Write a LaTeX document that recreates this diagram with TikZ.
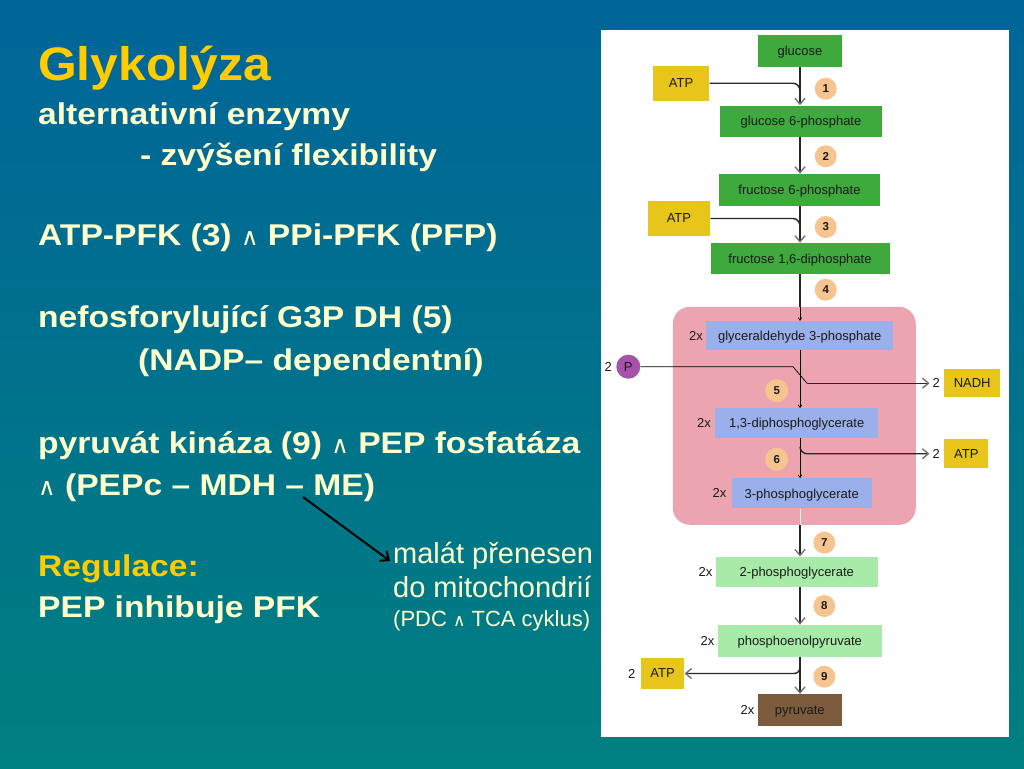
\documentclass[tikz,border=0pt]{standalone}
\usepackage{fontspec}
\setmainfont{Liberation Sans}
\newfontfamily\titlefont[FakeStretch=1.06]{Liberation Sans}
\newfontfamily\bodyfont[FakeStretch=1.12]{Liberation Sans}
\newfontfamily\panelfont{Liberation Sans}
\newfontfamily\wedgefont{DejaVu Sans}
\usetikzlibrary{arrows.meta}
\newcommand{\andsym}{{\wedgefont\mdseries\fontsize{24pt}{24pt}\selectfont ∧}}
\newcommand{\andsmall}{{\wedgefont\fontsize{17pt}{17pt}\selectfont ∧}}
\definecolor{bgtop}{RGB}{0,101,153}
\definecolor{bgbot}{RGB}{0,127,128}
\definecolor{yel}{RGB}{255,204,0}
\definecolor{cream}{RGB}{255,255,204}
\definecolor{gboxc}{RGB}{62,170,62}
\definecolor{atpc}{RGB}{232,197,26}
\definecolor{peach}{RGB}{246,196,142}
\definecolor{pinkc}{RGB}{236,165,176}
\definecolor{bluec}{RGB}{155,176,235}
\definecolor{purc}{RGB}{165,82,170}
\definecolor{lgreen}{RGB}{168,234,168}
\definecolor{brownc}{RGB}{125,92,61}
\definecolor{txtdark}{RGB}{26,26,26}
\definecolor{linec}{RGB}{40,40,40}
\begin{document}
\begin{tikzpicture}[x=1pt,y=-1pt,
  ttl/.style={inner sep=0pt, anchor=base west, text=yel, font=\titlefont\bfseries\fontsize{47pt}{47pt}\selectfont},
  body/.style={inner sep=0pt, anchor=base west, text=cream, font=\bodyfont\bfseries\fontsize{30pt}{30pt}\selectfont},
  smalltxt/.style={inner sep=0pt, anchor=base west, text=cream, font=\panelfont\fontsize{29pt}{29pt}\selectfont},
  smallertxt/.style={inner sep=0pt, anchor=base west, text=cream, font=\panelfont\fontsize{22pt}{22pt}\selectfont},
  mbox/.style={inner sep=0pt, text depth=0pt, text=txtdark, font=\panelfont\fontsize{13pt}{13pt}\selectfont},
  gbox/.style={mbox, fill=gboxc},
  abox/.style={mbox, fill=atpc},
  bbox/.style={mbox, fill=bluec},
  lbox/.style={mbox, fill=lgreen},
  lab/.style={inner sep=0pt, text=txtdark, font=\panelfont\fontsize{13pt}{13pt}\selectfont},
  num/.style={circle, fill=peach, minimum size=22pt, inner sep=0pt, text=txtdark, font=\panelfont\bfseries\fontsize{11.5pt}{11.5pt}\selectfont},
  arr/.style={draw=linec, line width=1.4pt, -{Straight Barb[length=6pt,width=10pt,color=black!55]}},
  feed/.style={draw=linec, line width=1.4pt},
  thinarr/.style={draw=black, line width=0.7pt, -{Straight Barb[length=2.5pt,width=3.5pt]}},
  thinline/.style={draw=black, line width=0.7pt},
  bigarr/.style={draw=black, line width=2pt, -{Straight Barb[length=7pt,width=12pt]}}
]
\useasboundingbox (0,0) rectangle (1024,768);
\shade[top color=bgtop, bottom color=bgbot] (0,0) rectangle (1024,768);
\fill[white] (601,30) rectangle (1009,737);

% left text
\node[ttl] (t1) at (38,80) {Glykolýza};
\node[body] (t2) at (38,124) {alternativní enzymy};
\node[body] (t3) at (140,165) {- zvýšení flexibility};
\node[body] (t4) at (38,245) {ATP-PFK (3) \andsym{} PPi-PFK (PFP)};
\node[body] (t5) at (38,327) {nefosforylující G3P DH (5)};
\node[body] (t6) at (138,370) {(NADP– dependentní)};
\node[body] (t7) at (38,453) {pyruvát kináza (9) \andsym{} PEP fosfatáza};
\node[body] (t8) at (38,495) {\andsym{} (PEPc – MDH – ME)};
\node[body, text=yel] (t9) at (38,576) {Regulace:};
\node[body] (t10) at (38,617) {PEP inhibuje PFK};
\node[smalltxt] (s1) at (393,563) {malát přenesen};
\node[smalltxt] (s2) at (393,597) {do mitochondrií};
\node[smallertxt] (s3) at (393,626) {(PDC \andsmall{} TCA cyklus)};
\coordinate (mfrom) at (303,497);
\coordinate (mto) at (390,561);
\draw[bigarr] (mfrom) -- (mto);

% panel
\coordinate (spine) at (800,0);
\node[fill=pinkc, rounded corners=17pt, minimum width=243pt, minimum height=218pt, inner sep=0pt] (cyto) at (794.3,415.8) {};

\node[gbox, minimum width=84pt, minimum height=32pt] (glc) at (800,51) {glucose};
\node[gbox, minimum width=162pt, minimum height=31pt] (g6p) at (801,121) {glucose 6-phosphate};
\node[gbox, minimum width=161pt, minimum height=32pt] (f6p) at (799.5,190) {fructose 6-phosphate};
\node[gbox, minimum width=179pt, minimum height=31pt] (f16) at (800,258.5) {fructose 1,6-diphosphate};
\node[bbox, minimum width=187pt, minimum height=29pt] (g3p) at (799.7,335.5) {glyceraldehyde 3-phosphate};
\node[bbox, minimum width=163pt, minimum height=29.5pt] (dpg) at (796.7,423) {1,3-diphosphoglycerate};
\node[bbox, minimum width=140pt, minimum height=30pt] (pg3) at (801.7,493.3) {3-phosphoglycerate};
\node[lbox, minimum width=162pt, minimum height=30pt] (pg2) at (796.8,571.7) {2-phosphoglycerate};
\node[lbox, minimum width=164pt, minimum height=31.7pt] (pep) at (799.7,640.8) {phosphoenolpyruvate};
\node[mbox, fill=brownc, minimum width=84pt, minimum height=31.7pt] (pyr) at (799.7,710) {pyruvate};

\node[abox, minimum width=56.6pt, minimum height=35pt] (atp1) at (681,83.2) {ATP};
\node[abox, minimum width=62.3pt, minimum height=35.6pt] (atp2) at (678.9,218.5) {ATP};
\node[abox, minimum width=55.7pt, minimum height=28.3pt] (nadh) at (972.2,383.2) {NADH};
\node[abox, minimum width=44pt, minimum height=29.3pt] (atpr) at (966.3,453.7) {ATP};
\node[abox, minimum width=43.6pt, minimum height=31.6pt] (atp3) at (662.5,673.5) {ATP};
\node[circle, fill=purc, minimum size=24pt, inner sep=0pt, text=txtdark, font=\panelfont\fontsize{13pt}{13pt}\selectfont] (pc) at (628.3,366.7) {P};

% labels
\node[lab, anchor=east] (x1) at ([xshift=-3pt]g3p.west) {2x};
\node[lab, anchor=east] (x2) at ([xshift=-4pt]dpg.west) {2x};
\node[lab, anchor=east] (x3) at ([xshift=-5pt]pg3.west) {2x};
\node[lab, anchor=east] (x4) at ([xshift=-3pt]pg2.west) {2x};
\node[lab, anchor=east] (x5) at ([xshift=-3pt]pep.west) {2x};
\node[lab, anchor=east] (x6) at ([xshift=-3pt]pyr.west) {2x};
\node[lab, anchor=east] (n2a) at ([xshift=-4pt]nadh.west) {2};
\node[lab, anchor=east] (n2b) at ([xshift=-4pt]atpr.west) {2};
\node[lab, anchor=east] (n2p) at ([xshift=-4pt]pc.west) {2};
\node[lab, anchor=east] (n2c) at ([xshift=-5pt]atp3.west) {2};

% numbers
\node[num] (c1) at (825.7,88.7) {1};
\node[num] (c2) at (825.7,156.3) {2};
\node[num] (c3) at (825.7,227) {3};
\node[num] (c4) at (825.7,289.7) {4};
\node[num, minimum size=23pt] (c5) at (776.7,390.7) {5};
\node[num, minimum size=23pt] (c6) at (776.7,459.3) {6};
\node[num] (c7) at (824.3,542.7) {7};
\node[num] (c8) at (824.3,606) {8};
\node[num] (c9) at (824.3,676.7) {9};

% spine connectors
\draw[arr] (glc.south -| spine) -- (g6p.north -| spine);
\draw[feed] (atp1.east) -- ([xshift=-7pt]atp1.east -| spine) to[out=0,in=90] ([yshift=-8pt]atp1.east -| spine);
\draw[arr] (g6p.south -| spine) -- (f6p.north -| spine);
\draw[arr] (f6p.south -| spine) -- (f16.north -| spine);
\draw[feed] (atp2.east) -- ([xshift=-7pt]atp2.east -| spine) to[out=0,in=90] ([yshift=-8pt]atp2.east -| spine);
\draw[feed] (f16.south -| spine) -- (cyto.north -| spine);
\draw[thinarr] (cyto.north -| spine) -- (g3p.north -| spine);
\draw[thinarr] (g3p.south -| spine) -- (dpg.north -| spine);
\draw[thinarr] (dpg.south -| spine) -- (pg3.north -| spine);
\draw[draw=white!80!pinkc, line width=0.8pt] (pg3.south -| spine) -- (cyto.south -| spine);
\draw[arr] (cyto.south -| spine) -- (pg2.north -| spine);
\draw[arr] (pg2.south -| spine) -- (pep.north -| spine);
\draw[arr] (pep.south -| spine) -- (pyr.north -| spine);

% side connectors
\draw[thinline] (pc.east) -- ([xshift=-7pt]pc.east -| spine) -- ([xshift=7pt]n2a.west -| spine);
\draw[arr] ([xshift=7pt]n2a.west -| spine) -- ([xshift=-3pt]n2a.west);
\draw[arr] ([yshift=7pt]n2b.west -| spine) to[out=-90,in=180] ([xshift=7pt]n2b.west -| spine) -- ([xshift=-3pt]n2b.west);
\draw[arr] ([yshift=6pt]atp3.east -| spine) to[out=-90,in=0] ([xshift=-6pt]atp3.east -| spine) -- (atp3.east);
\end{tikzpicture}
\end{document}
